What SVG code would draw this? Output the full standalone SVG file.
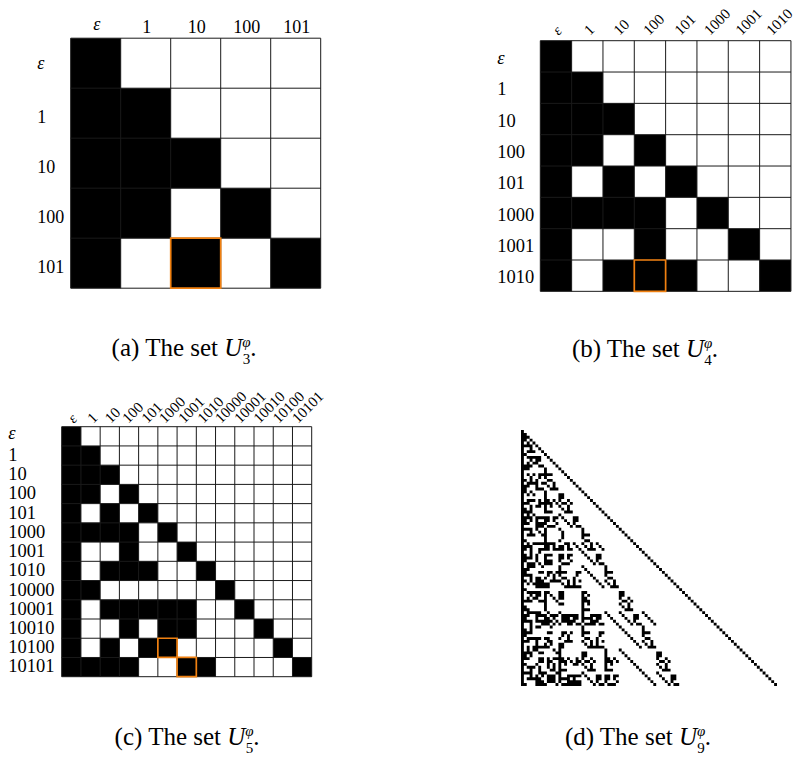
<svg xmlns="http://www.w3.org/2000/svg" width="795" height="769" viewBox="0 0 795 769">
<style>
.t{font-family:"Liberation Serif","DejaVu Serif",serif;fill:#000}
.rl{font-size:18.5px}
.cl{font-size:15px}
.e{font-style:italic}
.cap{font-family:"Liberation Serif","DejaVu Serif",serif;font-size:25px;fill:#000}
.grid{fill:none;stroke:#1a1a1a;stroke-width:1}
.hl{fill:none;stroke:#f08010;stroke-width:1.7}
</style>
<rect width="795" height="769" fill="#fff"/>

<g id="panel-a">
 <g transform="translate(70.7,38.2) scale(50)">
  <rect width="5" height="5" fill="#fff"/>
  <path fill="#000" d="M0 0h1v5H0zM1 1h1v3H1zM2 2h1v1H2zM3 3h1v1H3zM2 4h1v1H2zM4 4h1v1H4z"/>
  <path class="grid" vector-effect="non-scaling-stroke" d="M0 0H5M0 1H5M0 2H5M0 3H5M0 4H5M0 5H5M0 0V5M1 0V5M2 0V5M3 0V5M4 0V5M5 0V5"/>
  <rect class="hl" vector-effect="non-scaling-stroke" x="2" y="4" width="1" height="1"/>
 </g>
 <g class="t" style="font-size:18px" text-anchor="middle">
  <text class="e" x="96.7" y="29.5">ε</text>
  <text x="146.7" y="33.3">1</text>
  <text x="196.7" y="33.3">10</text>
  <text x="246.7" y="33.3">100</text>
  <text x="296.7" y="33.3">101</text>
 </g>
 <g class="t" style="font-size:18px">
  <text class="e" x="37.3" y="68.5">ε</text>
  <text x="37.3" y="122.7">1</text>
  <text x="37.3" y="172.7">10</text>
  <text x="37.3" y="222.7">100</text>
  <text x="37.3" y="272.7">101</text>
 </g>
</g>

<g id="panel-b">
 <g transform="translate(540.3,40.7) scale(31.33)">
  <rect width="8" height="8" fill="#fff"/>
  <path fill="#000" d="M0 0h1v8H0zM1 1h1v3H1zM1 5h1v1H1zM2 2h1v1H2zM3 3h1v1H3zM2 4h1v1H2zM4 4h1v1H4zM2 5h2v1H2zM5 5h1v1H5zM3 6h1v1H3zM6 6h1v1H6zM2 7h3v1H2zM7 7h1v1H7z"/>
  <path class="grid" vector-effect="non-scaling-stroke" d="M0 0H8M0 1H8M0 2H8M0 3H8M0 4H8M0 5H8M0 6H8M0 7H8M0 8H8M0 0V8M1 0V8M2 0V8M3 0V8M4 0V8M5 0V8M6 0V8M7 0V8M8 0V8"/>
  <rect class="hl" vector-effect="non-scaling-stroke" x="3" y="7" width="1" height="1"/>
 </g>
 <g class="t cl">
  <text class="e" transform="translate(558.4,36) rotate(-45)">ε</text>
  <text transform="translate(590.1,36) rotate(-45)">1</text>
  <text transform="translate(619.6,36) rotate(-45)">10</text>
  <text transform="translate(649.3,36) rotate(-45)">100</text>
  <text transform="translate(680.6,36) rotate(-45)">101</text>
  <text transform="translate(710.1,36) rotate(-45)">1000</text>
  <text transform="translate(741.5,36) rotate(-45)">1001</text>
  <text transform="translate(772.3,36) rotate(-45)">1010</text>
 </g>
 <g class="t rl">
  <text class="e" x="497.3" y="63.9">ε</text>
  <text x="497.3" y="95.2">1</text>
  <text x="497.3" y="126.5">10</text>
  <text x="497.3" y="157.8">100</text>
  <text x="497.3" y="189.2">101</text>
  <text x="497.3" y="220.5">1000</text>
  <text x="497.3" y="251.8">1001</text>
  <text x="497.3" y="283.2">1010</text>
 </g>
</g>

<g id="panel-c">
 <g transform="translate(61.7,426.7) scale(19.2308)">
  <rect width="13" height="13" fill="#fff"/>
  <path fill="#000" d="M0 0h1v13H0zM1 1h1v1H1zM1 2h2v1H1zM1 3h1v1H1zM3 3h1v1H3zM2 4h1v1H2zM4 4h1v1H4zM1 5h3v1H1zM5 5h1v1H5zM3 6h1v1H3zM6 6h1v1H6zM2 7h3v1H2zM7 7h1v1H7zM1 8h1v1H1zM8 8h1v1H8zM2 9h5v1H2zM9 9h1v1H9zM3 10h1v1H3zM5 10h2v1H5zM10 10h1v1H10zM2 11h1v1H2zM4 11h2v1H4zM11 11h1v1H11zM1 12h3v1H1zM6 12h2v1H6zM12 12h1v1H12z"/>
  <path class="grid" vector-effect="non-scaling-stroke" d="M0 0H13M0 1H13M0 2H13M0 3H13M0 4H13M0 5H13M0 6H13M0 7H13M0 8H13M0 9H13M0 10H13M0 11H13M0 12H13M0 13H13M0 0V13M1 0V13M2 0V13M3 0V13M4 0V13M5 0V13M6 0V13M7 0V13M8 0V13M9 0V13M10 0V13M11 0V13M12 0V13M13 0V13"/>
  <rect class="hl" vector-effect="non-scaling-stroke" x="5" y="11" width="1" height="1"/>
  <rect class="hl" vector-effect="non-scaling-stroke" x="6" y="12" width="1" height="1"/>
 </g>
 <g class="t cl">
  <text class="e" transform="translate(73.7,424) rotate(-45)">ε</text>
  <text transform="translate(93.3,424) rotate(-45)">1</text>
  <text transform="translate(110.8,424) rotate(-45)">10</text>
  <text transform="translate(128.3,424) rotate(-45)">100</text>
  <text transform="translate(147.5,424) rotate(-45)">101</text>
  <text transform="translate(165,424) rotate(-45)">1000</text>
  <text transform="translate(184.2,424) rotate(-45)">1001</text>
  <text transform="translate(203.4,424) rotate(-45)">1010</text>
  <text transform="translate(221,424) rotate(-45)">10000</text>
  <text transform="translate(240.2,424) rotate(-45)">10001</text>
  <text transform="translate(259.4,424) rotate(-45)">10010</text>
  <text transform="translate(278.7,424) rotate(-45)">10100</text>
  <text transform="translate(297.9,424) rotate(-45)">10101</text>
 </g>
 <g class="t rl">
  <text class="e" x="8.3" y="439.3">ε</text>
  <text x="8.3" y="460.8">1</text>
  <text x="8.3" y="480.1">10</text>
  <text x="8.3" y="499.3">100</text>
  <text x="8.3" y="518.5">101</text>
  <text x="8.3" y="537.8">1000</text>
  <text x="8.3" y="557">1001</text>
  <text x="8.3" y="576.2">1010</text>
  <text x="8.3" y="595.5">10000</text>
  <text x="8.3" y="614.7">10001</text>
  <text x="8.3" y="633.9">10010</text>
  <text x="8.3" y="653.1">10100</text>
  <text x="8.3" y="672.4">10101</text>
 </g>
</g>

<g id="panel-d">
 <g transform="translate(521,430) scale(2.8764)">
  <path fill="#000" d="M0 0h1v89H0zM1 1h1v1H1zM1 2h2v1H1zM1 3h1v1H1zM3 3h1v1H3zM2 4h1v1H2zM4 4h1v1H4zM1 5h3v1H1zM5 5h1v1H5zM3 6h1v1H3zM6 6h1v1H6zM2 7h3v1H2zM7 7h1v1H7zM1 8h1v1H1zM8 8h1v1H8zM2 9h5v1H2zM9 9h1v1H9zM3 10h1v1H3zM5 10h2v1H5zM10 10h1v1H10zM2 11h1v1H2zM4 11h2v1H4zM11 11h1v1H11zM1 12h3v1H1zM6 12h2v1H6zM12 12h1v1H12zM1 13h2v1H1zM8 13h1v1H8zM13 13h1v1H13zM8 14h1v1H8zM14 14h1v1H14zM2 15h1v1H2zM4 15h1v1H4zM6 15h5v1H6zM15 15h1v1H15zM3 16h1v1H3zM6 16h1v1H6zM8 16h1v1H8zM16 16h1v1H16zM1 17h1v1H1zM3 17h1v1H3zM5 17h1v1H5zM9 17h2v1H9zM17 17h1v1H17zM2 18h4v1H2zM7 18h2v1H7zM11 18h1v1H11zM18 18h1v1H18zM1 19h2v1H1zM5 19h1v1H5zM9 19h1v1H9zM11 19h1v1H11zM19 19h1v1H19zM1 20h1v1H1zM5 20h3v1H5zM10 20h3v1H10zM20 20h1v1H20zM1 21h1v1H1zM3 21h1v1H3zM8 21h1v1H8zM21 21h1v1H21zM2 22h1v1H2zM4 22h1v1H4zM8 22h1v1H8zM13 22h2v1H13zM22 22h1v1H22zM8 23h1v1H8zM13 23h2v1H13zM23 23h1v1H23zM2 24h3v1H2zM6 24h1v1H6zM8 24h2v1H8zM11 24h1v1H11zM13 24h1v1H13zM16 24h1v1H16zM24 24h1v1H24zM1 25h2v1H1zM6 25h5v1H6zM12 25h1v1H12zM14 25h2v1H14zM17 25h1v1H17zM25 25h1v1H25zM3 26h1v1H3zM5 26h2v1H5zM8 26h1v1H8zM10 26h1v1H10zM13 26h1v1H13zM16 26h1v1H16zM26 26h1v1H26zM1 27h1v1H1zM3 27h1v1H3zM8 27h1v1H8zM14 27h1v1H14zM16 27h1v1H16zM27 27h1v1H27zM1 28h3v1H1zM8 28h3v1H8zM15 28h3v1H15zM28 28h1v1H28zM2 29h1v1H2zM4 29h1v1H4zM13 29h1v1H13zM29 29h1v1H29zM1 30h3v1H1zM5 30h5v1H5zM11 30h2v1H11zM14 30h1v1H14zM18 30h2v1H18zM30 30h1v1H30zM1 31h1v1H1zM3 31h1v1H3zM5 31h1v1H5zM8 31h2v1H8zM11 31h1v1H11zM15 31h1v1H15zM18 31h2v1H18zM31 31h1v1H31zM1 32h2v1H1zM5 32h4v1H5zM12 32h1v1H12zM16 32h1v1H16zM18 32h1v1H18zM32 32h1v1H32zM5 33h3v1H5zM9 33h3v1H9zM17 33h1v1H17zM19 33h2v1H19zM33 33h1v1H33zM1 34h3v1H1zM5 34h1v1H5zM8 34h1v1H8zM13 34h1v1H13zM21 34h1v1H21zM34 34h1v1H34zM3 35h1v1H3zM6 35h1v1H6zM8 35h1v1H8zM14 35h1v1H14zM21 35h1v1H21zM35 35h1v1H35zM2 36h3v1H2zM7 36h2v1H7zM14 36h1v1H14zM21 36h3v1H21zM36 36h1v1H36zM8 37h1v1H8zM14 37h1v1H14zM21 37h1v1H21zM37 37h1v1H37zM1 38h1v1H1zM8 38h1v1H8zM13 38h1v1H13zM22 38h2v1H22zM38 38h1v1H38zM2 39h1v1H2zM4 39h8v1H4zM15 39h2v1H15zM18 39h1v1H18zM21 39h1v1H21zM24 39h1v1H24zM26 39h1v1H26zM39 39h1v1H39zM1 40h3v1H1zM8 40h2v1H8zM11 40h1v1H11zM13 40h2v1H13zM16 40h1v1H16zM19 40h1v1H19zM22 40h1v1H22zM24 40h1v1H24zM27 40h1v1H27zM40 40h1v1H40zM1 41h1v1H1zM3 41h1v1H3zM6 41h4v1H6zM11 41h4v1H11zM16 41h2v1H16zM20 41h1v1H20zM23 41h3v1H23zM28 41h1v1H28zM41 41h1v1H41zM3 42h1v1H3zM6 42h1v1H6zM21 42h1v1H21zM42 42h1v1H42zM1 43h1v1H1zM3 43h1v1H3zM5 43h1v1H5zM8 43h3v1H8zM13 43h2v1H13zM16 43h2v1H16zM22 43h1v1H22zM26 43h2v1H26zM43 43h1v1H43zM1 44h3v1H1zM5 44h1v1H5zM8 44h1v1H8zM13 44h2v1H13zM16 44h1v1H16zM23 44h1v1H23zM26 44h2v1H26zM44 44h1v1H44zM1 45h1v1H1zM5 45h1v1H5zM8 45h3v1H8zM13 45h1v1H13zM17 45h1v1H17zM24 45h1v1H24zM26 45h1v1H26zM45 45h1v1H45zM2 46h3v1H2zM6 46h1v1H6zM8 46h3v1H8zM14 46h3v1H14zM25 46h1v1H25zM27 46h2v1H27zM46 46h1v1H46zM2 47h3v1H2zM7 47h1v1H7zM13 47h1v1H13zM21 47h1v1H21zM29 47h1v1H29zM47 47h1v1H47zM1 48h2v1H1zM13 48h1v1H13zM22 48h1v1H22zM29 48h1v1H29zM48 48h1v1H48zM1 49h1v1H1zM6 49h2v1H6zM9 49h2v1H9zM12 49h4v1H12zM19 49h2v1H19zM23 49h1v1H23zM29 49h3v1H29zM49 49h1v1H49zM1 50h3v1H1zM9 50h1v1H9zM11 50h1v1H11zM13 50h1v1H13zM19 50h1v1H19zM24 50h1v1H24zM29 50h1v1H29zM50 50h1v1H50zM3 51h1v1H3zM5 51h2v1H5zM8 51h1v1H8zM11 51h1v1H11zM14 51h2v1H14zM18 51h1v1H18zM25 51h1v1H25zM30 51h2v1H30zM51 51h1v1H51zM1 52h1v1H1zM3 52h1v1H3zM5 52h3v1H5zM10 52h4v1H10zM16 52h1v1H16zM18 52h1v1H18zM20 52h1v1H20zM26 52h1v1H26zM29 52h1v1H29zM32 52h1v1H32zM52 52h1v1H52zM2 53h1v1H2zM4 53h6v1H4zM14 53h1v1H14zM16 53h1v1H16zM18 53h1v1H18zM27 53h1v1H27zM30 53h1v1H30zM32 53h1v1H32zM53 53h1v1H53zM5 54h5v1H5zM15 54h6v1H15zM28 54h1v1H28zM31 54h3v1H31zM54 54h1v1H54zM1 55h1v1H1zM55 55h1v1H55zM2 56h5v1H2zM8 56h2v1H8zM13 56h2v1H13zM21 56h2v1H21zM34 56h2v1H34zM56 56h1v1H56zM3 57h1v1H3zM5 57h2v1H5zM8 57h1v1H8zM10 57h1v1H10zM13 57h2v1H13zM21 57h1v1H21zM23 57h1v1H23zM34 57h2v1H34zM57 57h1v1H57zM2 58h1v1H2zM4 58h2v1H4zM8 58h1v1H8zM11 58h1v1H11zM13 58h2v1H13zM21 58h2v1H21zM34 58h1v1H34zM37 58h1v1H37zM58 58h1v1H58zM1 59h3v1H1zM6 59h3v1H6zM12 59h1v1H12zM21 59h3v1H21zM35 59h2v1H35zM38 59h1v1H38zM59 59h1v1H59zM8 60h1v1H8zM13 60h2v1H13zM21 60h1v1H21zM23 60h1v1H23zM34 60h1v1H34zM37 60h1v1H37zM60 60h1v1H60zM1 61h1v1H1zM8 61h1v1H8zM21 61h1v1H21zM35 61h1v1H35zM37 61h1v1H37zM61 61h1v1H61zM1 62h2v1H1zM8 62h1v1H8zM21 62h3v1H21zM36 62h3v1H36zM62 62h1v1H62zM2 63h5v1H2zM9 63h1v1H9zM13 63h1v1H13zM21 63h1v1H21zM29 63h1v1H29zM34 63h1v1H34zM42 63h1v1H42zM63 63h1v1H63zM1 64h2v1H1zM5 64h4v1H5zM10 64h3v1H10zM14 64h6v1H14zM21 64h1v1H21zM24 64h4v1H24zM30 64h1v1H30zM35 64h1v1H35zM39 64h2v1H39zM43 64h1v1H43zM64 64h1v1H64zM1 65h1v1H1zM5 65h1v1H5zM8 65h2v1H8zM11 65h1v1H11zM14 65h3v1H14zM18 65h2v1H18zM21 65h4v1H21zM26 65h2v1H26zM31 65h1v1H31zM36 65h1v1H36zM39 65h2v1H39zM44 65h1v1H44zM65 65h1v1H65zM1 66h3v1H1zM5 66h6v1H5zM12 66h1v1H12zM14 66h5v1H14zM21 66h1v1H21zM24 66h3v1H24zM32 66h1v1H32zM37 66h1v1H37zM39 66h1v1H39zM45 66h1v1H45zM66 66h1v1H66zM3 67h1v1H3zM7 67h3v1H7zM11 67h1v1H11zM13 67h1v1H13zM16 67h2v1H16zM19 67h2v1H19zM22 67h4v1H22zM27 67h2v1H27zM33 67h1v1H33zM38 67h1v1H38zM40 67h2v1H40zM46 67h1v1H46zM67 67h1v1H67zM3 68h1v1H3zM5 68h2v1H5zM10 68h1v1H10zM21 68h1v1H21zM34 68h1v1H34zM42 68h1v1H42zM68 68h1v1H68zM1 69h1v1H1zM3 69h1v1H3zM21 69h1v1H21zM35 69h1v1H35zM42 69h1v1H42zM69 69h1v1H69zM1 70h3v1H1zM9 70h2v1H9zM14 70h2v1H14zM17 70h1v1H17zM21 70h3v1H21zM27 70h2v1H27zM36 70h1v1H36zM42 70h3v1H42zM70 70h1v1H70zM1 71h1v1H1zM14 71h1v1H14zM16 71h1v1H16zM21 71h1v1H21zM27 71h1v1H27zM37 71h1v1H37zM42 71h1v1H42zM71 71h1v1H71zM2 72h5v1H2zM8 72h2v1H8zM13 72h1v1H13zM16 72h1v1H16zM22 72h2v1H22zM26 72h1v1H26zM38 72h1v1H38zM43 72h2v1H43zM72 72h1v1H72zM1 73h2v1H1zM5 73h1v1H5zM9 73h2v1H9zM15 73h3v1H15zM21 73h1v1H21zM24 73h1v1H24zM26 73h1v1H26zM28 73h1v1H28zM39 73h1v1H39zM42 73h1v1H42zM45 73h1v1H45zM73 73h1v1H73zM5 74h1v1H5zM8 74h1v1H8zM10 74h1v1H10zM13 74h2v1H13zM22 74h1v1H22zM24 74h1v1H24zM26 74h1v1H26zM40 74h1v1H40zM43 74h1v1H43zM45 74h1v1H45zM74 74h1v1H74zM2 75h1v1H2zM4 75h6v1H4zM13 75h2v1H13zM23 75h6v1H23zM41 75h1v1H41zM44 75h3v1H44zM75 75h1v1H75zM2 76h1v1H2zM4 76h2v1H4zM11 76h1v1H11zM13 76h1v1H13zM29 76h1v1H29zM34 76h1v1H34zM76 76h1v1H76zM1 77h3v1H1zM6 77h2v1H6zM12 77h2v1H12zM21 77h2v1H21zM29 77h1v1H29zM35 77h1v1H35zM47 77h2v1H47zM77 77h1v1H77zM1 78h1v1H1zM3 78h1v1H3zM13 78h1v1H13zM21 78h2v1H21zM29 78h1v1H29zM36 78h1v1H36zM47 78h2v1H47zM78 78h1v1H78zM1 79h2v1H1zM6 79h2v1H6zM9 79h1v1H9zM11 79h4v1H11zM16 79h1v1H16zM19 79h1v1H19zM21 79h1v1H21zM24 79h1v1H24zM29 79h2v1H29zM32 79h1v1H32zM37 79h1v1H37zM47 79h1v1H47zM50 79h1v1H50zM79 79h1v1H79zM6 80h2v1H6zM9 80h2v1H9zM13 80h3v1H13zM17 80h1v1H17zM19 80h2v1H19zM22 80h2v1H22zM25 80h1v1H25zM29 80h3v1H29zM33 80h1v1H33zM38 80h1v1H38zM48 80h2v1H48zM51 80h1v1H51zM80 80h1v1H80zM1 81h1v1H1zM5 81h1v1H5zM9 81h1v1H9zM11 81h1v1H11zM13 81h1v1H13zM15 81h1v1H15zM18 81h2v1H18zM21 81h1v1H21zM24 81h1v1H24zM29 81h1v1H29zM31 81h1v1H31zM39 81h1v1H39zM47 81h1v1H47zM50 81h1v1H50zM81 81h1v1H81zM2 82h3v1H2zM6 82h1v1H6zM9 82h1v1H9zM11 82h1v1H11zM13 82h1v1H13zM22 82h1v1H22zM24 82h1v1H24zM29 82h1v1H29zM40 82h1v1H40zM48 82h1v1H48zM50 82h1v1H50zM82 82h1v1H82zM3 83h1v1H3zM6 83h1v1H6zM10 83h2v1H10zM13 83h3v1H13zM23 83h3v1H23zM29 83h3v1H29zM41 83h1v1H41zM49 83h3v1H49zM83 83h1v1H83zM1 84h3v1H1zM6 84h3v1H6zM12 84h2v1H12zM21 84h1v1H21zM42 84h1v1H42zM47 84h1v1H47zM84 84h1v1H84zM3 85h1v1H3zM5 85h1v1H5zM7 85h1v1H7zM9 85h3v1H9zM13 85h1v1H13zM16 85h5v1H16zM22 85h1v1H22zM26 85h2v1H26zM29 85h2v1H29zM32 85h2v1H32zM43 85h1v1H43zM48 85h1v1H48zM52 85h2v1H52zM85 85h1v1H85zM2 86h5v1H2zM9 86h3v1H9zM13 86h4v1H13zM18 86h1v1H18zM23 86h1v1H23zM26 86h2v1H26zM29 86h2v1H29zM32 86h1v1H32zM44 86h1v1H44zM49 86h1v1H49zM52 86h2v1H52zM86 86h1v1H86zM5 87h3v1H5zM9 87h3v1H9zM13 87h1v1H13zM16 87h5v1H16zM24 87h1v1H24zM26 87h1v1H26zM29 87h1v1H29zM33 87h1v1H33zM45 87h1v1H45zM50 87h1v1H50zM52 87h1v1H52zM87 87h1v1H87zM1 88h1v1H1zM5 88h4v1H5zM12 88h1v1H12zM14 88h7v1H14zM25 88h1v1H25zM27 88h2v1H27zM30 88h3v1H30zM46 88h1v1H46zM51 88h1v1H51zM53 88h2v1H53zM88 88h1v1H88z"/>
 </g>
</g>

<g id="captions">
 <text class="cap" x="184" y="356" text-anchor="middle">(a) The set <tspan font-style="italic">U</tspan><tspan font-size="15" font-style="italic" dy="-9">φ</tspan><tspan font-size="15" dx="-8" dy="17">3</tspan><tspan dy="-8">.</tspan></text>
 <text class="cap" x="645" y="357" text-anchor="middle">(b) The set <tspan font-style="italic">U</tspan><tspan font-size="15" font-style="italic" dy="-9">φ</tspan><tspan font-size="15" dx="-8" dy="17">4</tspan><tspan dy="-8">.</tspan></text>
 <text class="cap" x="187" y="745" text-anchor="middle">(c) The set <tspan font-style="italic">U</tspan><tspan font-size="15" font-style="italic" dy="-9">φ</tspan><tspan font-size="15" dx="-8" dy="17">5</tspan><tspan dy="-8">.</tspan></text>
 <text class="cap" x="638" y="745" text-anchor="middle">(d) The set <tspan font-style="italic">U</tspan><tspan font-size="15" font-style="italic" dy="-9">φ</tspan><tspan font-size="15" dx="-8" dy="17">9</tspan><tspan dy="-8">.</tspan></text>
</g>
</svg>
